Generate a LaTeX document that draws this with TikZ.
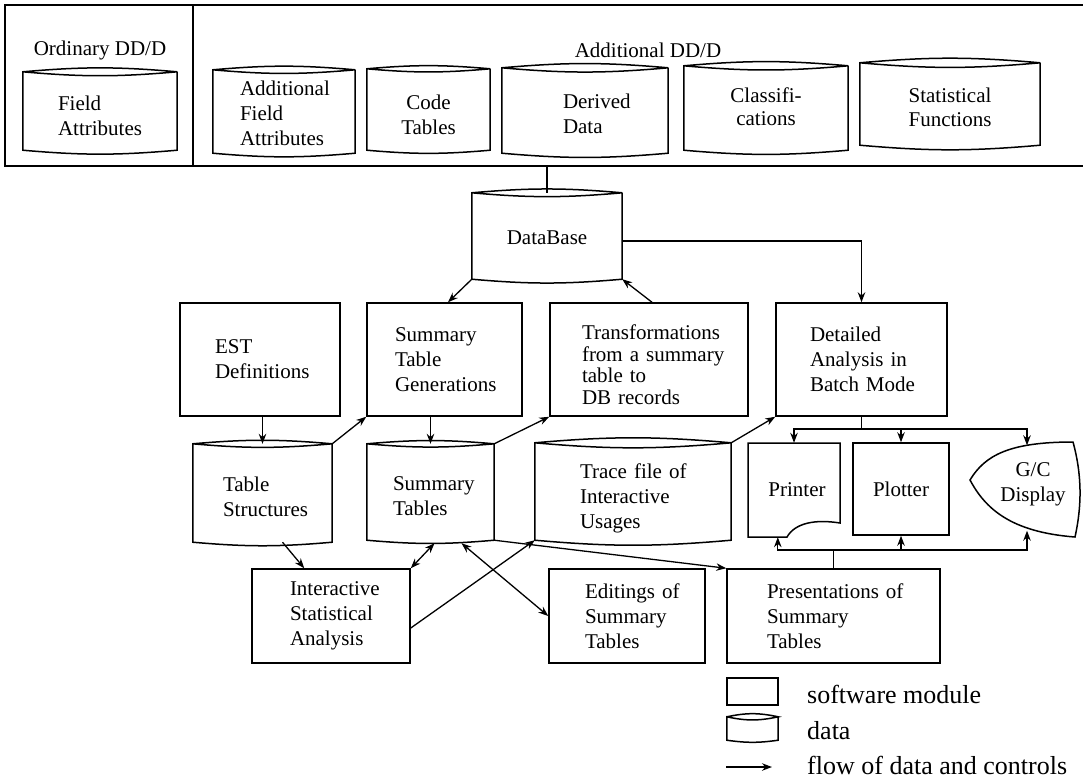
\documentclass[tikz,border=0pt]{standalone}
\usepackage{fontspec}
\setmainfont{Liberation Serif}
\usetikzlibrary{arrows.meta,calc}
\newcommand\dtxt{\fontsize{21}{25}\selectfont}
\newcommand\legtxt{\fontsize{26}{30}\selectfont}
\hyphenpenalty=10000
\exhyphenpenalty=10000
\begin{document}
\begin{tikzpicture}[x=1pt,y=-1pt,
  every node/.style={font=\dtxt},
  ln/.style={line width=1.5pt},
  mod/.style={draw, line width=1.5pt, rectangle, inner ysep=0pt, align=left},
  dat/.style={rectangle, inner sep=0pt},
  txt/.style={inner ysep=0pt, align=left},
  arr/.style={line width=1.3pt, -{Stealth[length=10pt,width=7.5pt]}},
  darr/.style={line width=1.3pt, {Stealth[length=10pt,width=7.5pt]}-{Stealth[length=10pt,width=7.5pt]}},
  lg/.style={font=\legtxt, anchor=west, inner sep=0pt}
]
\useasboundingbox (0,0) rectangle (1083,780);

% top frame
\node[draw, ln, minimum width=1090pt, minimum height=161pt, inner sep=0pt] (top) at (550,85.5) {};
\draw[ln] (193,5) -- (193,166);
\node (ordl) at (100,50) {Ordinary DD/D};
\node (addl) at (648,50) {Additional DD/D};

% data (cylinders)
\node[dat, minimum width=154pt, minimum height=78pt] (fa) at (100,111) {};
\node[txt, text width=84pt, inner xsep=35pt] (fa-t) at ([yshift=-4.5pt]fa.center) {Field\\Attributes};
\node[dat, minimum width=142pt, minimum height=83pt] (afa) at (284,111.5) {};
\node[txt, text width=88pt, inner xsep=27pt] (afa-t) at ([yshift=-2pt]afa.center) {Additional\\Field\\Attributes};
\node[dat, minimum width=123pt, minimum height=81pt] (ct) at (428.5,109.5) {};
\node[txt, align=center] (ct-t) at ([yshift=-5pt]ct.center) {Code\\Tables};
\node[dat, minimum width=166pt, minimum height=85pt] (dv) at (585,110.5) {};
\node[txt, text width=44pt, inner xsep=61pt] (dv-t) at ([yshift=-3pt]dv.center) {Derived\\Data};
\node[dat, minimum width=164pt, minimum height=84pt] (cls) at (766,108) {};
\node[txt, align=center, font=\fontsize{21}{23}\selectfont] (cls-t) at ([yshift=1pt]cls.center) {Classifi-\\cations};
\node[dat, minimum width=180pt, minimum height=82pt] (sf) at (950,104) {};
\node[txt, align=center, font=\fontsize{21}{24}\selectfont] (sf-t) at ([yshift=-3pt]sf.center) {Statistical\\Functions};
\node[dat, minimum width=150pt, minimum height=86pt] (db) at (547,236) {};
\node[txt, align=center] (db-t) at ([yshift=-2pt]db.center) {DataBase};
\node[dat, minimum width=139pt, minimum height=98pt] (ts) at (262.5,493) {};
\node[txt, text width=79pt, inner xsep=30pt] (ts-t) at ([yshift=-3.5pt]ts.center) {Table\\Structures};
\node[dat, minimum width=127pt, minimum height=96pt] (st) at (430.5,492) {};
\node[txt, text width=75pt, inner xsep=26pt] (st-t) at ([yshift=-4.5pt]st.center) {Summary\\Tables};
\node[dat, minimum width=196pt, minimum height=97pt] (trc) at (633,491.5) {};
\node[txt, text width=106pt, inner xsep=45pt] (trc-t) at ([yshift=-7pt]trc.center) {Trace~file~of\\Interactive\\Usages};

\foreach \n in {fa,afa,ct,dv,cls,sf,db,ts,st,trc}
  \draw[ln] (\n.north west) to[out=5,in=175] (\n.north east) to[out=-175,in=-5] (\n.north west)
            -- (\n.south west) to[out=-5,in=-175] (\n.south east) -- (\n.north east);

% software modules
\node[mod, minimum height=113pt, text width=90pt, inner xsep=35pt] (est) at (260,359.5) {EST\\Definitions};
\node[mod, minimum height=113pt, text width=99pt, inner xsep=28pt] (sg) at (444.5,359.5) {Summary\\Table\\Generations};
\node[mod, minimum width=198pt, minimum height=113pt, inner sep=0pt] (tf) at (649,359.5) {};
\node[txt, text width=134pt, inner xsep=32pt, font=\fontsize{21}{21.5}\selectfont] (tf-t) at ([yshift=-5pt]tf.center) {Transformations\\from~a~summary\\table~to\\DB~records};
\node[mod, minimum height=113pt, text width=103pt, inner xsep=34pt] (det) at (861.5,359.5) {Detailed\\Analysis~in\\Batch~Mode};
\node[mod, minimum height=94pt, text width=82pt, inner xsep=38pt] (isa) at (331,616) {Interactive\\Statistical\\Analysis};
\node[mod, minimum height=94pt, text width=84pt, inner xsep=36pt] (ed) at (627,616) {Editings~of\\Summary\\Tables};
\node[mod, minimum height=94pt, text width=133pt, inner xsep=40pt] (pres) at (833.5,616) {Presentations~of\\Summary\\Tables};

% devices
\node[dat, align=center, minimum width=92pt, minimum height=94pt] (prn) at (794,490) {};
\node[txt] (prn-t) at (797,490) {Printer};
\draw[ln] (748,443) -- (840,443) -- (840,523) .. controls (815,519) and (795,523) .. (787,537) -- (748,537) -- cycle;
\node[mod, align=center, minimum width=96pt, minimum height=92pt] (plt) at (901,489) {Plotter};
\node[dat, minimum width=96pt, minimum height=94pt] (gc) at (1027,489.5) {};
\node[txt, align=center] (gc-t) at (1033,484) {G/C\\Display};
\draw[ln] (970,480) .. controls (985,455) and (1010,442) .. (1073,442)
          .. controls (1082,475) and (1082,505) .. (1075,537)
          .. controls (1010,532) and (985,508) .. (970,480) -- cycle;

% connectors
\draw[ln] (db.north |- top.south) -- (db.north);
\draw[arr] (db.south west) -- ([xshift=3.5pt]sg.north);
\draw[arr] ([xshift=3pt]tf.north) -- (db.south east);
\draw[arr] ([yshift=-5pt]db.east) -| (det.north);
\draw[arr] (ts.north |- est.south) -- (ts.north);
\draw[arr] (ts.north east) -- (sg.south west);
\draw[arr] (st.north |- sg.south) -- (st.north);
\draw[arr] (st.north east) -- (tf.south west);
\draw[arr] (trc.north east) -- (det.south west);

\coordinate (b1) at (det.south |- 0,429);
\draw[ln] (det.south) -- (b1);
\draw[arr] (b1) -| (prn.north);
\draw[arr] (b1) -| (plt.north);
\draw[arr] (b1) -| ([yshift=-3pt]gc.north);

\coordinate (b2) at (pres.north |- 0,550);
\draw[ln] (pres.north) -- (b2);
\draw[arr] (b2) -| ([xshift=30pt]prn.south west);
\draw[arr] (b2) -| (plt.south);
\draw[arr] (b2) -| ([yshift=6pt]gc.south);

\draw[arr] ([xshift=20pt]ts.south) -- ([xshift=53pt]isa.north west);
\draw[darr] (isa.north east) -- ([xshift=4pt,yshift=-3pt]st.south);
\draw[darr] ([xshift=31pt,yshift=-3pt]st.south) -- (ed.west);
\draw[arr] ([yshift=-12pt]isa.east) -- (trc.south west);
\draw[arr] (st.south east) -- (pres.north west);

% legend
\node[mod, minimum width=51pt, minimum height=27pt, inner sep=0pt] (lg1) at (752.5,691.5) {};
\node[lg] (lg1t) at (807,694) {software module};
\node[dat, minimum width=51pt, minimum height=23pt] (lg2) at (752.5,728.5) {};
\draw[ln] (lg2.north west) to[out=12,in=168] (lg2.north east) to[out=-168,in=-12] (lg2.north west)
          -- (lg2.south west) to[out=-8,in=-172] (lg2.south east) -- (lg2.north east);
\node[lg] (lg2t) at (807,731) {data};
\coordinate (la1) at (726,767);
\coordinate (la2) at (772,767);
\draw[arr] (la1) -- (la2);
\node[lg] (lg3t) at (807,765) {flow of data and controls};
\end{tikzpicture}
\end{document}
